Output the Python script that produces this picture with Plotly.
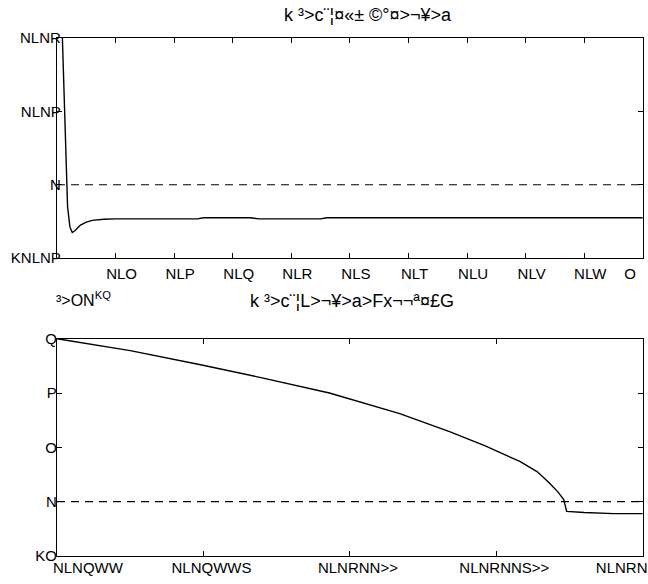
import plotly.graph_objects as go

# ---- data (top panel) ----
top_x = [0.0, 0.004, 0.008, 0.010, 0.012, 0.015, 0.018, 0.022, 0.026, 0.030, 0.035,
         0.040, 0.050, 0.060, 0.080, 0.100, 0.150, 0.200, 0.240, 0.250, 0.330, 0.345,
         0.450, 0.460, 0.560, 0.600, 0.680, 0.690, 0.770, 0.800, 0.850, 0.900, 1.000]
top_y = [0.048, 0.050, 0.046, 0.036, 0.022, 0.006, -0.006, -0.0115, -0.0130, -0.0126, -0.0118,
         -0.0110, -0.0102, -0.0097, -0.0094, -0.0093, -0.0093, -0.0093, -0.0093, -0.0090, -0.0090, -0.0093,
         -0.0093, -0.0090, -0.0090, -0.0091, -0.0091, -0.0089, -0.0089, -0.0090, -0.0090, -0.0090, -0.0090]
top_xticks = [0.1, 0.2, 0.3, 0.4, 0.5, 0.6, 0.7, 0.8, 0.9, 1.0]
top_xlabels = ["NLO", "NLP", "NLQ", "NLR", "NLS", "NLT", "NLU", "NLV", "NLW", "O"]
top_yticks = [0.04, 0.02, 0.0, -0.02]
top_ylabels = ["NLNR", "NLNP", "N", "KNLNP"]
top_title = "k ³>c¨¦¤«± ©°¤>¬¥>a"

# ---- data (bottom panel, values in units of 1e-3) ----
bot_x = [0.039900, 0.039925, 0.039949, 0.039970, 0.039993, 0.040017, 0.040034, 0.040046,
         0.040058, 0.040064, 0.040068, 0.040071, 0.040073, 0.040074, 0.040080, 0.040090, 0.040100]
bot_y = [3.00, 2.78, 2.52, 2.28, 2.00, 1.62, 1.29, 1.03,
         0.74, 0.55, 0.35, 0.18, 0.04, -0.18, -0.20, -0.22, -0.22]
bot_xticks = [0.03990, 0.039950, 0.040000, 0.040050, 0.04010]
bot_xlabels = ["NLNQWW", "NLNQWWS", "NLNRNN>>", "NLNRNNS>>", "NLNRN"]
bot_yticks = [3, 2, 1, 0, -1]
bot_ylabels = ["Q", "P", "O", "N", "KO"]
bot_title = "k ³>c¨¦L>¬¥>a>Fx¬¬ª¤£G"
bot_exp = "³>ON<sup>KQ</sup>"

FONT = "Liberation Sans, Arial, sans-serif"
NB = "\u00a0"

# pad edge labels so they sit inside the figure as in the reference
top_xlabels_disp = top_xlabels[:-1] + [top_xlabels[-1] + NB * 9]
bot_xlabels_disp = [NB * 11 + bot_xlabels[0]] + bot_xlabels[1:-1] + [bot_xlabels[-1] + NB * 14]

fig = go.Figure()
fig.add_trace(go.Scatter(x=top_x, y=top_y, mode="lines",
                         line=dict(color="black", width=1.4), xaxis="x", yaxis="y",
                         showlegend=False, hoverinfo="skip"))
fig.add_trace(go.Scatter(x=[0, 1], y=[0, 0], mode="lines",
                         line=dict(color="black", width=1.2, dash="8px,6px"), xaxis="x", yaxis="y",
                         showlegend=False, hoverinfo="skip"))
fig.add_trace(go.Scatter(x=bot_x, y=bot_y, mode="lines",
                         line=dict(color="black", width=1.4), xaxis="x2", yaxis="y2",
                         showlegend=False, hoverinfo="skip"))
fig.add_trace(go.Scatter(x=[bot_x[0], bot_x[-1]], y=[0, 0], mode="lines",
                         line=dict(color="black", width=1.2, dash="8px,6px"), xaxis="x2", yaxis="y2",
                         showlegend=False, hoverinfo="skip"))

axis_common = dict(showline=True, linecolor="black", linewidth=1.3, mirror="ticks",
                   ticks="inside", ticklen=5, tickcolor="black", showgrid=False,
                   zeroline=False, automargin=False, ticklabeloverflow="allow",
                   tickfont=dict(family=FONT, size=15, color="black"))

fig.update_layout(
    width=648, height=584,
    margin=dict(l=0, r=0, t=0, b=0),
    paper_bgcolor="white", plot_bgcolor="white",
    xaxis=dict(domain=[0.088, 0.992], range=[0, 1], anchor="y",
               tickvals=top_xticks, ticktext=top_xlabels_disp, ticklabelshift=6,
               ticklabelstandoff=2, **axis_common),
    yaxis=dict(domain=[0.558, 0.935], range=[-0.02, 0.04], anchor="x",
               tickvals=top_yticks, ticktext=top_ylabels, ticklabelstandoff=-8, **axis_common),
    xaxis2=dict(domain=[0.088, 0.992], range=[0.0399, 0.0401], anchor="y2",
                tickvals=bot_xticks, ticktext=bot_xlabels_disp, ticklabelshift=8,
                ticklabelstandoff=-2, **axis_common),
    yaxis2=dict(domain=[0.048, 0.420], range=[-1, 3], anchor="x2",
                tickvals=bot_yticks, ticktext=bot_ylabels, ticklabelstandoff=-4, **axis_common),
    annotations=[
        dict(text=top_title, x=368 / 648, y=1 - 15 / 584, xref="paper", yref="paper",
             xanchor="center", yanchor="middle",
             showarrow=False, font=dict(family=FONT, size=18, color="black")),
        dict(text=bot_title, x=352 / 648, y=1 - 301 / 584, xref="paper", yref="paper",
             xanchor="center", yanchor="middle",
             showarrow=False, font=dict(family=FONT, size=18, color="black")),
        dict(text=bot_exp, x=54 / 648, y=1 - 299 / 584, xref="paper", yref="paper",
             xanchor="left", yanchor="middle",
             showarrow=False, font=dict(family=FONT, size=16, color="black")),
    ],
)

fig.write_html("out.html", config={"displayModeBar": False},
               post_script="document.body.style.margin='0';")
